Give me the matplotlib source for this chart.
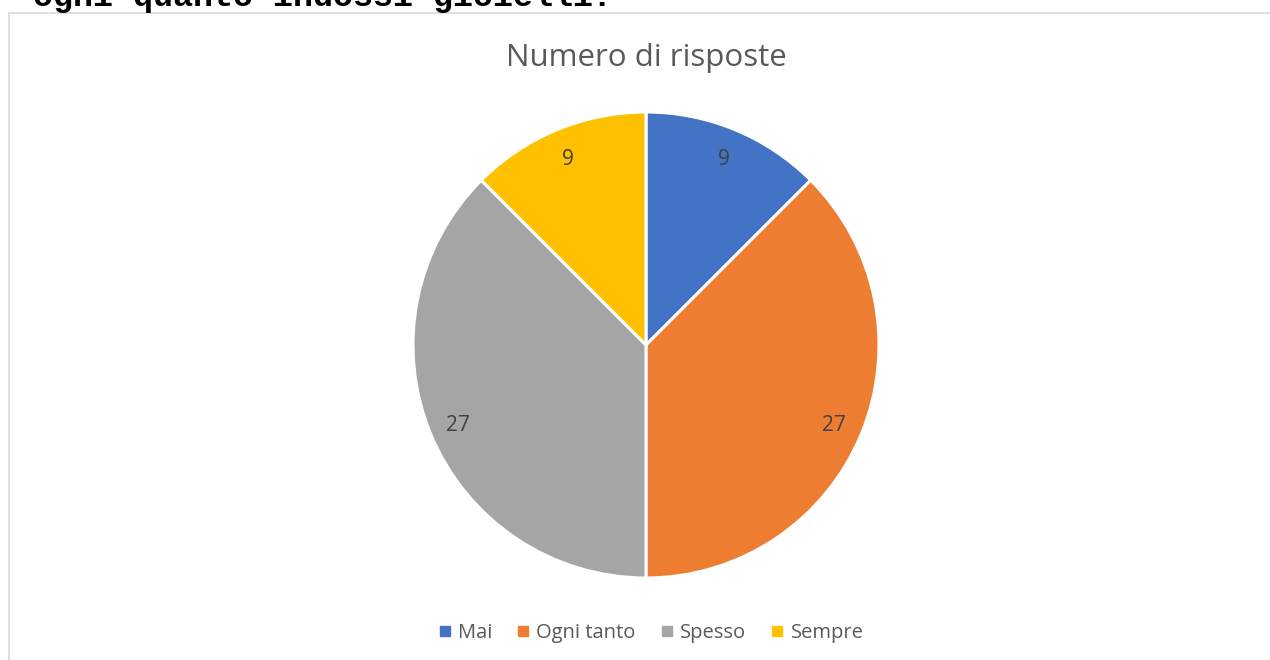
import matplotlib
matplotlib.use("Agg")
import matplotlib.pyplot as plt
from matplotlib.lines import Line2D
from matplotlib.patches import Rectangle

# ---- data ----
categories = ["Mai", "Ogni tanto", "Spesso", "Sempre"]
values = [9, 27, 27, 9]
colors = ["#4472C4", "#ED7D31", "#A5A5A5", "#FFC000"]
title = "Numero di risposte"
top_text = "ogni quanto indossi gioielli?"

W, H = 1270, 660
fig = plt.figure(figsize=(W / 100, H / 100), dpi=100)
fig.patch.set_facecolor("white")

# cropped document text at very top
fig.text(33 / W, 1 - 6 / H, top_text, family="Liberation Mono", fontsize=24,
         fontweight="bold", color="black", ha="left", va="baseline")

# chart area border (extends beyond the crop)
fig.patches.append(Rectangle((9 / W, -0.1), 1.2, 1 - 12.5 / H + 0.1,
                             transform=fig.transFigure, fill=False,
                             edgecolor="#D9D9D9", linewidth=1.2))

# pie
cx, cy, r = 646, 345, 233
ax = fig.add_axes([(cx - r) / W, (H - cy - r) / H, 2 * r / W, 2 * r / H])
wedges, texts = ax.pie(values, colors=colors, startangle=90, counterclock=False,
                       labels=[str(v) for v in values], labeldistance=0.875,
                       wedgeprops=dict(edgecolor="white", linewidth=2.2),
                       textprops=dict(color="#404040", fontsize=15,
                                      family="Open Sans"))
for t in texts:
    t.set_ha("center")
    t.set_va("center_baseline")
ax.set_xlim(-1, 1)
ax.set_ylim(-1, 1)
ax.set_aspect("equal")
ax.axis("off")

# title
fig.text(cx / W, 1 - 58 / H, title, ha="center", va="center",
         fontsize=22.5, color="#595959", family="Open Sans")

# legend
handles = [Line2D([], [], marker="s", linestyle="none", markersize=6.5,
                  markerfacecolor=c, markeredgecolor=c) for c in colors]
leg = fig.legend(handles, categories, loc="center",
                 bbox_to_anchor=(651 / W, 1 - 633 / H), ncol=4, frameon=False,
                 handlelength=0.6, handletextpad=0.35, columnspacing=1.25,
                 prop=dict(family="Open Sans", size=14.5))
for t in leg.get_texts():
    t.set_color("#595959")

fig.savefig("out.png", dpi=100, facecolor="white")
